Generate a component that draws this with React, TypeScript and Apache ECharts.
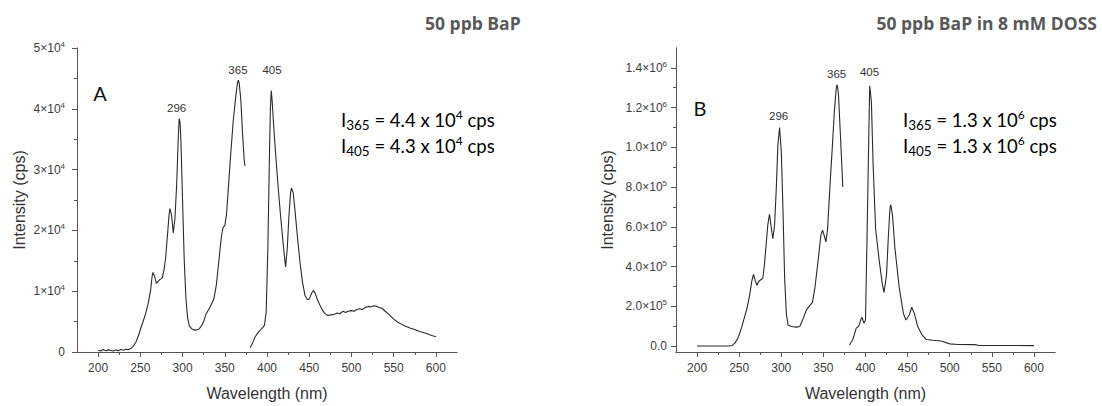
import { useEffect, useRef } from 'react';
import * as echarts from 'echarts';

// ---------- data ----------
const xTickValues = [200, 250, 300, 350, 400, 450, 500, 550, 600];
const xMinorTickValues = [225, 275, 325, 375, 425, 475, 525, 575];

const yTickValuesA = [0, 10000, 20000, 30000, 40000, 50000];
const yTickLabelsA = ['0', '1×10^4', '2×10^4', '3×10^4', '4×10^4', '5×10^4'];
const yMinorTickValuesA = [5000, 15000, 25000, 35000, 45000];

const yTickValuesB = [0, 200000, 400000, 600000, 800000, 1000000, 1200000, 1400000];
const yTickLabelsB = ['0.0', '2.0×10^5', '4.0×10^5', '6.0×10^5', '8.0×10^5', '1.0×10^6', '1.2×10^6', '1.4×10^6'];
const yMinorTickValuesB = [100000, 300000, 500000, 700000, 900000, 1100000, 1300000];

// Panel A: 50 ppb BaP
const excitationA: [number, number][] = [
  [200, 300], [203, 150], [206, 400], [209, 200], [212, 350], [215, 250], [218, 150], [221, 350],
  [224, 200], [227, 400], [230, 300], [233, 450], [236, 400], [239, 600], [242, 1000], [245, 1700],
  [248, 2800], [250, 3700], [253, 4900], [256, 6200], [259, 7800], [262, 10000], [264, 12500],
  [265, 13100], [267, 12400], [269, 11300], [271, 11600], [273, 11900], [276, 12200], [278, 13500],
  [280, 15500], [282, 19000], [284, 22500], [285, 23600], [287, 22500], [289, 19600], [291, 22000],
  [293, 27500], [295, 35500], [296, 38400], [297, 37800], [298, 35000], [300, 25000], [302, 15000],
  [304, 8800], [306, 5600], [308, 4300], [311, 3800], [315, 3600], [319, 3700], [322, 4200],
  [325, 5000], [328, 6300], [331, 7000], [334, 7800], [337, 8700], [340, 11000], [343, 15000],
  [346, 19000], [348, 20500], [350, 20800], [352, 22500], [354, 26500], [357, 32500], [360, 38000],
  [363, 42000], [365, 44200], [366, 44700], [367, 44300], [369, 41500], [371, 36000], [373, 31500],
  [374, 30600],
];
const emissionA: [number, number][] = [
  [380, 700], [383, 1500], [386, 2500], [389, 3100], [392, 3600], [395, 4000], [397, 4400],
  [399, 6500], [401, 17000], [403, 33000], [404, 40000], [405, 43000], [406, 41500], [408, 37000],
  [410, 33000], [413, 27500], [416, 22500], [419, 18000], [421, 15200], [422, 14000], [424, 17000],
  [426, 22500], [428, 26300], [429, 27000], [431, 26200], [433, 23500], [436, 19000], [439, 14800],
  [442, 11500], [445, 9300], [448, 8600], [450, 8700], [453, 9700], [455, 10100], [457, 9700],
  [460, 8500], [464, 7300], [468, 6400], [472, 6000], [476, 6100], [480, 6200], [483, 6400],
  [486, 6300], [490, 6700], [493, 6500], [496, 6700], [500, 6800], [503, 6700], [506, 7000],
  [510, 7100], [513, 7000], [516, 7300], [520, 7500], [523, 7400], [526, 7600], [530, 7500],
  [533, 7300], [536, 7200], [540, 6700], [545, 6100], [550, 5400], [555, 4900], [560, 4500],
  [565, 4200], [570, 3900], [575, 3700], [580, 3400], [585, 3200], [590, 3000], [595, 2700],
  [600, 2500],
];
const peakLabelsA: [number, number, string][] = [
  [293, 40200, '296'], [365.6, 46400, '365'], [406, 46400, '405'],
];

// Panel B: 50 ppb BaP in 8 mM DOSS
const excitationB: [number, number][] = [
  [200, 0], [220, 0], [238, 0], [242, 3000], [245, 16000], [248, 35000], [250, 57000], [253, 95000],
  [256, 140000], [259, 185000], [262, 246000], [265, 327000], [267, 360000], [269, 330000],
  [271, 305000], [273, 325000], [276, 335000], [278, 340000], [280, 410000], [282, 510000],
  [284, 610000], [286, 663000], [288, 600000], [290, 540000], [292, 606000], [294, 786000],
  [296, 1015000], [298, 1100000], [300, 980000], [302, 690000], [304, 340000], [306, 164000],
  [308, 106000], [312, 98000], [318, 95000], [322, 98000], [326, 139000], [330, 183000],
  [334, 205000], [337, 220000], [340, 295000], [344, 440000], [347, 557000], [349, 583000],
  [351, 555000], [353, 524000], [355, 590000], [358, 820000], [361, 1030000], [363, 1180000],
  [365, 1285000], [366, 1315000], [367, 1300000], [368, 1260000], [370, 1080000], [372, 900000],
  [373, 800000],
];
const emissionB: [number, number][] = [
  [381, 5000], [385, 33000], [389, 90000], [392, 100000], [395, 139000], [396, 144000], [398, 115000],
  [400, 130000], [402, 590000], [404, 1080000], [405, 1310000], [407, 1230000], [409, 920000],
  [412, 590000], [416, 440000], [420, 310000], [422, 270000], [425, 360000], [427, 540000],
  [429, 690000], [430, 712000], [432, 660000], [435, 490000], [440, 295000], [445, 164000],
  [448, 131000], [452, 156000], [455, 195000], [458, 164000], [462, 98000], [467, 57000],
  [472, 33000], [480, 29000], [490, 25000], [500, 11000], [510, 8000], [530, 7000], [535, 3000],
  [560, 3000], [600, 2000],
];
const peakLabelsB: [number, number, string][] = [
  [296.8, 1160000, '296'], [365.7, 1367000, '365'], [404.8, 1377000, '405'],
];

const titleA = '50 ppb BaP';
const titleB = '50 ppb BaP in 8 mM DOSS';
const panelA = 'A';
const panelB = 'B';
const annotA = ['{n|I}{sub|365}{n| = 4.4 x 10}{sup|4}{n| cps}', '{n|I}{sub|405}{n| = 4.3 x 10}{sup|4}{n| cps}'];
const annotB = ['{n|I}{sub|365}{n| = 1.3 x 10}{sup|6}{n| cps}', '{n|I}{sub|405}{n| = 1.3 x 10}{sup|6}{n| cps}'];

// ---------- styling ----------
const axisColor = '#555';
const labelColor = '#3c3c3c';
const lineColor = '#2a2a2a';
const tickFont = "'Liberation Sans', Arial, sans-serif";
const calFont = "Lato, 'Open Sans', sans-serif";
const titleFont = "'Open Sans', Lato, sans-serif";

const tickRich = {
  b: { fontSize: 12, fontFamily: tickFont, color: labelColor, lineHeight: 15 },
  s: { fontSize: 8, fontFamily: tickFont, color: labelColor, verticalAlign: 'top', lineHeight: 9 },
};

function richFormatter(values: number[], labels: string[]) {
  return (v: number) => {
    const i = values.findIndex((t) => Math.abs(t - v) < 1e-6);
    if (i < 0) return '';
    const [b, e] = labels[i].split('^');
    return e ? `{b|${b}}{s|${e}}` : `{b|${b}}`;
  };
}

function xAxesFor(gridIndex: number) {
  const base = {
    type: 'value', gridIndex, min: 175, max: 625, position: 'bottom', offset: 0,
    splitLine: { show: false },
  };
  return [
    {
      ...base,
      axisLine: { show: true, onZero: false, lineStyle: { color: axisColor, width: 1 } },
      axisTick: { show: true, length: 5, customValues: xTickValues, lineStyle: { color: axisColor } },
      axisLabel: { show: true, customValues: xTickValues, fontSize: 12, color: labelColor, fontFamily: tickFont, margin: 10 },
      name: 'Wavelength (nm)', nameLocation: 'middle', nameGap: 33,
      nameTextStyle: { fontSize: 16, color: '#333', fontFamily: tickFont },
    },
    {
      ...base,
      axisLine: { show: true, onZero: false, lineStyle: { color: axisColor, width: 1 } },
      axisTick: { show: true, length: 3, customValues: xMinorTickValues, lineStyle: { color: axisColor } },
      axisLabel: { show: false },
    },
  ];
}

function yAxesFor(gridIndex: number, min: number, max: number, values: number[], labels: string[], minors: number[], margin: number, nameGap: number) {
  const base = { type: 'value', gridIndex, min, max, position: 'left', offset: 0, splitLine: { show: false } };
  return [
    {
      ...base,
      axisLine: { show: true, onZero: false, lineStyle: { color: axisColor, width: 1 } },
      axisTick: { show: true, length: 5, customValues: values, lineStyle: { color: axisColor } },
      axisLabel: { show: true, customValues: values, formatter: richFormatter(values, labels), rich: tickRich, margin },
      name: 'Intensity (cps)', nameLocation: 'middle', nameGap, nameRotate: 90,
      nameTextStyle: { fontSize: 16, color: '#333', fontFamily: tickFont },
    },
    {
      ...base,
      axisLine: { show: true, onZero: false, lineStyle: { color: axisColor, width: 1 } },
      axisTick: { show: true, length: 3, customValues: minors, lineStyle: { color: axisColor } },
      axisLabel: { show: false },
    },
  ];
}

function lineSeries(data: [number, number][], xi: number, yi: number, peaks?: [number, number, string][]) {
  const s: any = {
    type: 'line', xAxisIndex: xi, yAxisIndex: yi, data, showSymbol: false, symbol: 'none',
    lineStyle: { color: lineColor, width: 1.1 }, silent: true,
  };
  if (peaks) {
    s.markPoint = {
      symbol: 'circle', symbolSize: 1, silent: true,
      itemStyle: { color: 'rgba(0,0,0,0)' },
      label: { show: true, position: 'inside', fontSize: 11.5, color: '#333', fontFamily: tickFont },
      data: peaks.map(([x, y, t]) => ({ coord: [x, y], label: { formatter: t } })),
    };
  }
  return s;
}

const annotRich = {
  n: { fontSize: 18.5, fontFamily: calFont, color: '#1a1a1a', lineHeight: 24 },
  sub: { fontSize: 13.5, fontFamily: calFont, color: '#1a1a1a', verticalAlign: 'bottom', lineHeight: 14 },
  sup: { fontSize: 12, fontFamily: calFont, color: '#1a1a1a', verticalAlign: 'top', lineHeight: 14 },
};

export default function App() {
  const ref = useRef<HTMLDivElement>(null);
  useEffect(() => {
    if (!ref.current) return;
    const chart = echarts.init(ref.current, undefined, { renderer: 'svg' });
    const option: any = {
      animation: false,
      backgroundColor: '#fff',
      grid: [
        { left: 77, top: 48, width: 380, height: 310 },
        { left: 676, top: 48, width: 379, height: 311 },
      ],
      xAxis: [...xAxesFor(0), ...xAxesFor(1)],
      yAxis: [
        ...yAxesFor(0, 0, 50000, yTickValuesA, yTickLabelsA, yMinorTickValuesA, 12, 50),
        ...yAxesFor(1, -30000, 1500000, yTickValuesB, yTickLabelsB, yMinorTickValuesB, 9, 61),
      ],
      series: [
        lineSeries(excitationA, 0, 0, peakLabelsA),
        lineSeries(emissionA, 0, 0),
        lineSeries(excitationB, 2, 2, peakLabelsB),
        lineSeries(emissionB, 2, 2),
      ],
      graphic: [
        { type: 'text', left: 425, top: 14, style: { text: titleA, fontSize: 17.5, fontWeight: 'bold', fontFamily: titleFont, fill: '#595959' } },
        { type: 'text', right: 5, top: 14, style: { text: titleB, fontSize: 17.5, fontWeight: 'bold', fontFamily: titleFont, fill: '#595959' } },
        { type: 'text', x: 100, y: 93, style: { text: panelA, fontSize: 20, fontFamily: calFont, fill: '#111', align: 'center', verticalAlign: 'middle' } },
        { type: 'text', x: 700, y: 108, style: { text: panelB, fontSize: 20, fontFamily: calFont, fill: '#111', align: 'center', verticalAlign: 'middle' } },
        { type: 'text', x: 341, y: 120, style: { text: annotA[0], rich: annotRich, verticalAlign: 'middle' } },
        { type: 'text', x: 341, y: 146, style: { text: annotA[1], rich: annotRich, verticalAlign: 'middle' } },
        { type: 'text', x: 903, y: 120, style: { text: annotB[0], rich: annotRich, verticalAlign: 'middle' } },
        { type: 'text', x: 903, y: 146, style: { text: annotB[1], rich: annotRich, verticalAlign: 'middle' } },
      ],
    };
    chart.setOption(option);
    return () => chart.dispose();
  }, []);
  return (
    <div
      ref={ref}
      style={{ position: 'absolute', left: 0, top: 0, width: 1102, height: 406, background: '#fff' }}
    />
  );
}
